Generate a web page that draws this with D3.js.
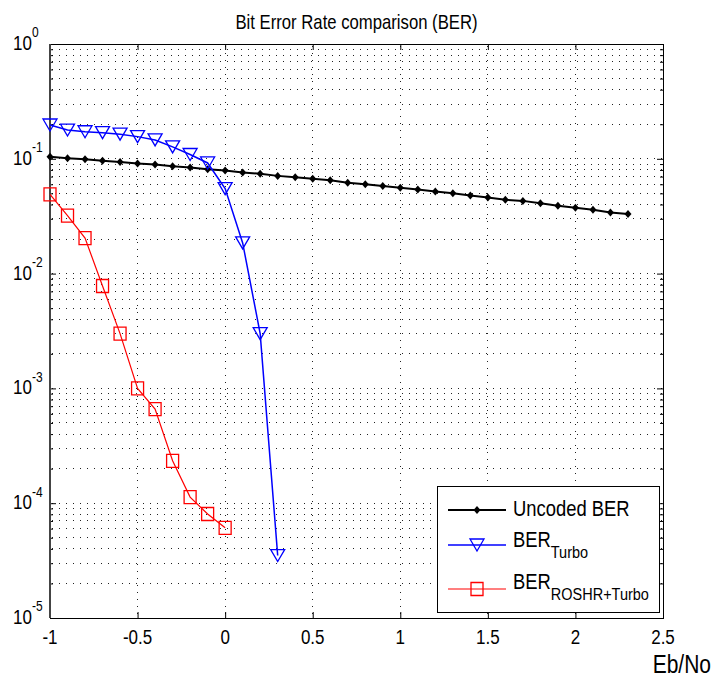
<!DOCTYPE html>
<html>
<head>
<meta charset="utf-8">
<script src="https://cdn.jsdelivr.net/npm/d3@7"></script>
<style>
  body { margin: 0; background: #fff; }
  svg { display: block; }
</style>
</head>
<body>
<div id="chart"></div>
<script>
// Eb/No values (dB)
const ebnoUncoded = [-1, -0.9, -0.8, -0.7, -0.6, -0.5, -0.4, -0.3, -0.2, -0.1, 0, 0.1, 0.2, 0.3, 0.4, 0.5, 0.6,
  0.7, 0.8, 0.9, 1, 1.1, 1.2, 1.3, 1.4, 1.5, 1.6, 1.7, 1.8, 1.9, 2, 2.1, 2.2, 2.3];
const berUncoded = [0.104, 0.101, 0.099, 0.096, 0.094, 0.091, 0.089, 0.086, 0.084, 0.081, 0.079, 0.076, 0.074,
  0.071, 0.069, 0.067, 0.065, 0.062, 0.060, 0.058, 0.056, 0.054, 0.052, 0.050, 0.048, 0.046, 0.044, 0.043,
  0.041, 0.039, 0.0375, 0.036, 0.034, 0.033];

const ebnoTurbo = [-1, -0.9, -0.8, -0.7, -0.6, -0.5, -0.4, -0.3, -0.2, -0.1, 0, 0.1, 0.2, 0.3];
const berTurbo = [0.197, 0.178, 0.172, 0.169, 0.164, 0.156, 0.146, 0.127, 0.109, 0.092, 0.055, 0.0185, 0.0030, 0.000035];

const ebnoRoshr = [-1, -0.9, -0.8, -0.7, -0.6, -0.5, -0.4, -0.3, -0.2, -0.1, 0];
const berRoshr = [0.049, 0.032, 0.0204, 0.0078, 0.0030, 0.00100, 0.00066, 0.000234, 0.000113, 0.0000805, 0.000061];

const xTicks = [-1, -0.5, 0, 0.5, 1, 1.5, 2, 2.5];
const yExponents = [0, -1, -2, -3, -4, -5];
const legendLabels = [["Uncoded BER", ""], ["BER", "Turbo"], ["BER", "ROSHR+Turbo"]];

const width = 713, height = 679;
const margin = { top: 44, right: 50, bottom: 61, left: 50 };
const font = "'Liberation Sans', Arial, sans-serif";

const svg = d3.select("#chart").append("svg").attr("width", width).attr("height", height)
  .attr("font-family", font);

const x = d3.scaleLinear().domain([-1, 2.5]).range([margin.left, width - margin.right]);
const y = d3.scaleLog().domain([1e-5, 1]).range([height - margin.bottom, margin.top]);

const yMajor = yExponents.map((e) => Math.pow(10, e));
const yMinor = [];
yExponents.slice(1).forEach((e) => {
  for (let m = 2; m <= 9; m++) yMinor.push(m * Math.pow(10, e));
});

// text stretched vertically like the original bitmap
const stretchText = (parent, tx, ty, sy) =>
  parent.append("text").attr("transform", `translate(${tx},${ty}) scale(1,${sy})`);

/** grid **/
const grid = svg.append("g").attr("stroke", "#222").attr("stroke-width", 1).attr("stroke-dasharray", "1,6")
  .attr("shape-rendering", "crispEdges");
grid.selectAll("line.gx").data(xTicks.slice(1, -1)).join("line")
  .attr("x1", (d) => x(d)).attr("x2", (d) => x(d))
  .attr("y1", y(1) + 2).attr("y2", y(1e-5));
grid.selectAll("line.gy").data(yMajor.slice(1, -1).concat(yMinor)).join("line")
  .attr("x1", x(-1) + 2).attr("x2", x(2.5))
  .attr("y1", (d) => y(d)).attr("y2", (d) => y(d));

/** axes **/
const axisStyle = (g) => {
  g.select(".domain").remove();
  g.selectAll("line").attr("stroke", "#000");
};

svg.append("g").attr("transform", `translate(0,${y(1e-5)})`)
  .call(d3.axisBottom(x).tickValues(xTicks).tickSize(-6).tickFormat(""))
  .call(axisStyle);

svg.append("g").attr("transform", `translate(0,${y(1)})`)
  .call(d3.axisTop(x).tickValues(xTicks).tickSize(-6).tickFormat(""))
  .call(axisStyle);

// x tick labels
const xLabels = svg.append("g").attr("font-size", 17).attr("fill", "#000").attr("text-anchor", "middle");
xTicks.forEach((d) => {
  stretchText(xLabels, x(d), y(1e-5) + 26, 1.22).text(d);
});

// y major + minor ticks, left and right
[[x(-1), d3.axisLeft], [x(2.5), d3.axisRight]].forEach(([pos, ax]) => {
  svg.append("g").attr("transform", `translate(${pos},0)`)
    .call(ax(y).tickValues(yMajor).tickSize(-6).tickFormat(""))
    .call(axisStyle);
  svg.append("g").attr("transform", `translate(${pos},0)`)
    .call(ax(y).tickValues(yMinor).tickSize(-3).tickFormat(""))
    .call(axisStyle);
});

// y tick labels 10^n
const yLabels = svg.append("g").attr("font-size", 17).attr("fill", "#000");
yExponents.forEach((e) => {
  const t = stretchText(yLabels, 13, y(Math.pow(10, e)) + 6, 1.15);
  t.append("tspan").text("10");
  t.append("tspan").attr("font-size", 12).attr("dy", -11).text(e);
});

// box
svg.append("rect").attr("x", x(-1)).attr("y", y(1)).attr("width", x(2.5) - x(-1)).attr("height", y(1e-5) - y(1))
  .attr("fill", "none").attr("stroke", "#000").attr("stroke-width", 1).attr("shape-rendering", "crispEdges");
svg.append("line").attr("x1", x(-1)).attr("x2", x(-1)).attr("y1", y(1)).attr("y2", y(1e-5))
  .attr("stroke", "#444").attr("stroke-width", 2);

/** title & labels **/
stretchText(svg, (x(-1) + x(2.5)) / 2, 29, 1.25).attr("text-anchor", "middle")
  .attr("font-size", 16.7).text("Bit Error Rate comparison (BER)");
stretchText(svg, 711, 673, 1.25).attr("text-anchor", "end")
  .attr("font-size", 21).text("Eb/No");

/** series **/
const line = d3.line().x((d) => x(d[0])).y((d) => y(d[1]));
const triPath = "M-7,-6L7,-6L0,6Z";
const sqPath = "M-6,-6.5H6V6.5H-6Z";

const series = [
  { xs: ebnoUncoded, ys: berUncoded, color: "#000", width: 2, marker: "dot" },
  { xs: ebnoTurbo, ys: berTurbo, color: "#0000ff", width: 1.5, marker: triPath },
  { xs: ebnoRoshr, ys: berRoshr, color: "#ff0000", width: 1.2, marker: sqPath },
];

const drawMarker = (g, s) => {
  if (s.marker === "dot") {
    g.append("path").attr("d", "M0,-4L3.5,0L0,4L-3.5,0Z").attr("fill", s.color);
  } else {
    g.append("path").attr("d", s.marker).attr("fill", "none").attr("stroke", s.color).attr("stroke-width", 1.3);
  }
};

series.forEach((s) => {
  const pts = s.xs.map((v, i) => [v, s.ys[i]]);
  svg.append("path").datum(pts).attr("d", line).attr("fill", "none")
    .attr("stroke", s.color).attr("stroke-width", s.width);
  pts.forEach((p) => {
    const g = svg.append("g").attr("transform", `translate(${x(p[0])},${y(p[1])})`);
    drawMarker(g, s);
  });
});

/** legend **/
const legend = svg.append("g").attr("transform", "translate(437,486)");
legend.append("rect").attr("width", 222).attr("height", 126).attr("fill", "#fff")
  .attr("stroke", "#000").attr("stroke-width", 1).attr("shape-rendering", "crispEdges");
const rowsY = [24, 59, 103];
const textBase = [30, 61, 103];
series.forEach((s, i) => {
  const row = legend.append("g").attr("transform", `translate(0,${rowsY[i]})`);
  row.append("line").attr("x1", 11).attr("x2", 69).attr("stroke", s.color).attr("stroke-width", s.width);
  drawMarker(row.append("g").attr("transform", "translate(40,0)"), s);
  const t = stretchText(legend, 76, textBase[i], 1.2).attr("font-size", 18.4).attr("fill", "#000");
  t.append("tspan").text(legendLabels[i][0]);
  if (legendLabels[i][1]) t.append("tspan").attr("font-size", 14.5).attr("dy", 9).text(legendLabels[i][1]);
});
</script>
</body>
</html>
